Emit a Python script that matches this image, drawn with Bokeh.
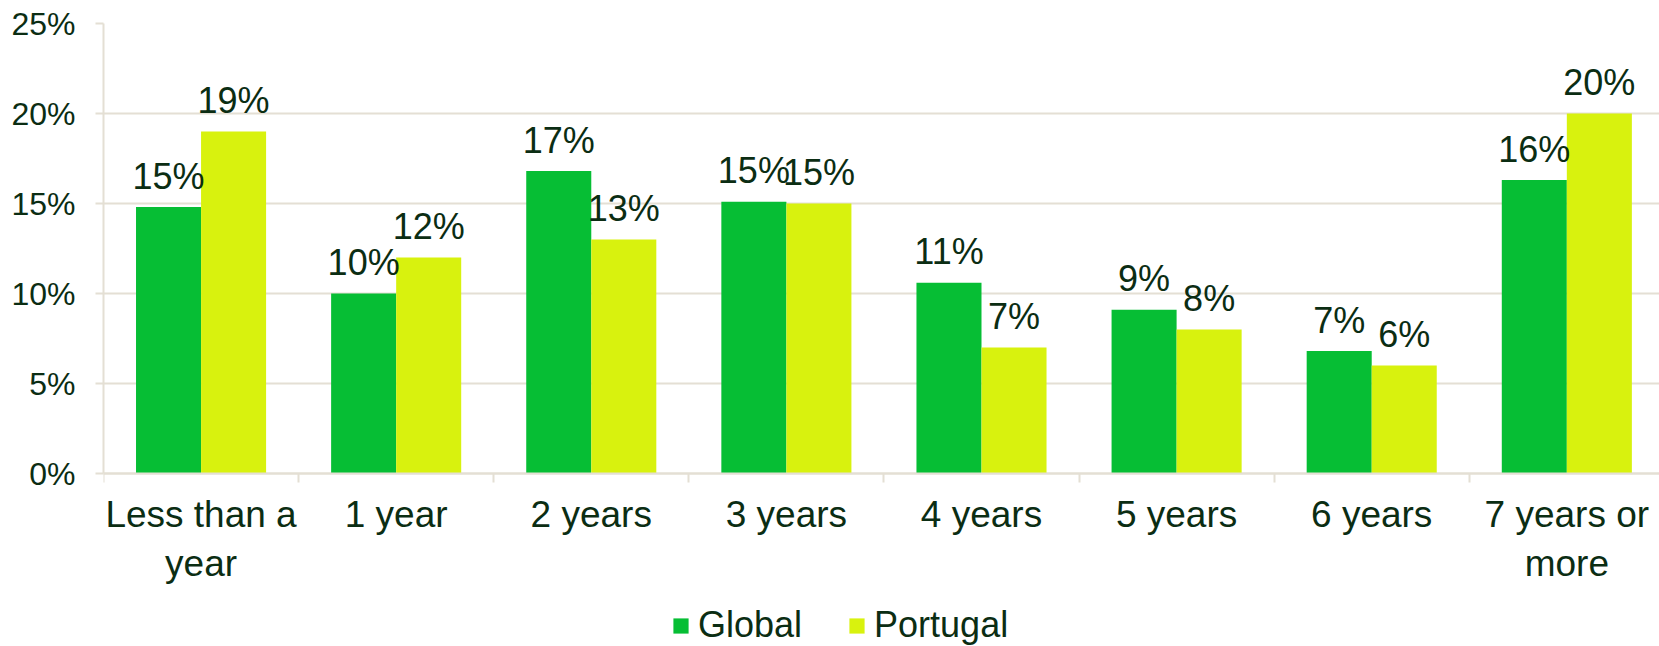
import numpy as np
from bokeh.plotting import figure
from bokeh.models import (ColumnDataSource, Range1d, FixedTicker, PrintfTickFormatter,
                          Legend, LegendItem)
from bokeh.core.properties import value
from bokeh.embed import file_html
from bokeh.resources import INLINE

categories = ["Less than a\nyear", "1 year", "2 years", "3 years", "4 years",
              "5 years", "6 years", "7 years or\nmore"]
global_vals = [14.8, 10.0, 16.8, 15.1, 10.6, 9.1, 6.8, 16.3]
portugal_vals = [19, 12, 13, 15, 7, 8, 6, 20]
series_names = ["Global", "Portugal"]
y_ticks = [0, 5, 10, 15, 20, 25]

GREEN = "#06BE34"
LIME = "#D8F20E"
TEXT = "#0B2D13"
GRID = "#E4DFD4"
FONT = "Liberation Sans"

n = len(categories)
centers = np.arange(n) + 0.5
bw = 1.0 / 3.0

src_g = ColumnDataSource(dict(x=centers - bw / 2, top=global_vals,
                              lab=[f"{round(v):d}%" for v in global_vals]))
src_p = ColumnDataSource(dict(x=centers + bw / 2, top=portugal_vals,
                              lab=[f"{round(v):d}%" for v in portugal_vals]))

# frame spans the full height below the top border; the value axis occupies 0..25
# and the space under 0 holds the category labels and the legend
y_max = y_ticks[-1]
y_min = -y_max * 173.0 / 450.0

p = figure(width=1659, height=646, output_backend="svg", toolbar_location=None,
           x_range=Range1d(0, 7.975), y_range=Range1d(y_min, y_max),
           min_border_left=103, min_border_right=0, min_border_top=23,
           min_border_bottom=0)
p.outline_line_color = None
p.background_fill_color = "white"

rg = p.vbar(x="x", top="top", width=bw, source=src_g, fill_color=GREEN, line_color=None)
rp = p.vbar(x="x", top="top", width=bw, source=src_p, fill_color=LIME, line_color=None)

for s in (src_g, src_p):
    p.text(x="x", y="top", text="lab", source=s, text_align="center",
           text_baseline="alphabetic", y_offset=-31, text_color=TEXT,
           text_font=value(FONT), text_font_size="36px")

# y axis
yt = FixedTicker(ticks=y_ticks)
p.yaxis.ticker = yt
p.yaxis.bounds = (0, y_max)
p.yaxis.formatter = PrintfTickFormatter(format="%d%%")
p.yaxis.axis_line_color = GRID
p.yaxis.axis_line_width = 2
p.yaxis.major_tick_line_color = GRID
p.yaxis.major_tick_line_width = 2
p.yaxis.major_tick_out = 8
p.yaxis.major_tick_in = 0
p.yaxis.minor_tick_line_color = None
p.yaxis.major_label_standoff = 20
p.yaxis.major_label_text_font = FONT
p.yaxis.major_label_text_font_size = "32px"
p.yaxis.major_label_text_color = TEXT

# x axis, drawn at 0
p.xaxis.fixed_location = 0
p.xaxis.ticker = FixedTicker(ticks=list(centers), minor_ticks=list(range(n + 1)))
p.xaxis.major_label_overrides = {float(c): lab for c, lab in zip(centers, categories)}
p.xaxis.axis_line_color = GRID
p.xaxis.axis_line_width = 2
p.xaxis.major_tick_line_color = None
p.xaxis.minor_tick_line_color = GRID
p.xaxis.minor_tick_line_width = 2
p.xaxis.minor_tick_out = 9
p.xaxis.minor_tick_in = 0
p.xaxis.major_label_standoff = 11
p.xaxis.major_label_text_font = FONT
p.xaxis.major_label_text_font_size = "37px"
p.xaxis.major_label_text_color = TEXT
p.xaxis.major_label_text_align = "center"

p.xgrid.grid_line_color = None
p.ygrid.grid_line_color = GRID
p.ygrid.grid_line_width = 2

legend = Legend(items=[LegendItem(label=series_names[0], renderers=[rg]),
                       LegendItem(label=series_names[1], renderers=[rp])],
                orientation="horizontal", location=(568, 0),
                padding=0, margin=0, spacing=45, label_standoff=8,
                glyph_width=19, glyph_height=19,
                label_text_font=FONT, label_text_font_size="36px",
                label_text_color=TEXT, border_line_color=None,
                background_fill_alpha=0)
p.add_layout(legend, "center")

open("out.html", "w").write(file_html(p, INLINE))
